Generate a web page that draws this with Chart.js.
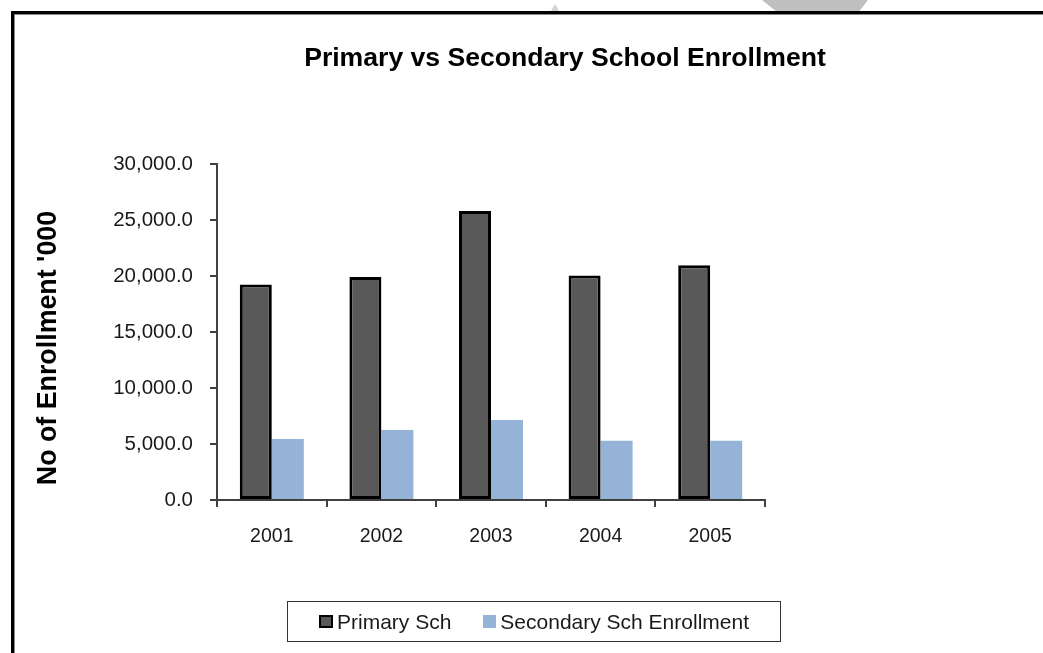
<!DOCTYPE html>
<html>
<head>
<meta charset="utf-8">
<title>Primary vs Secondary School Enrollment</title>
<script src="https://cdn.jsdelivr.net/npm/chart.js@4.4.1/dist/chart.umd.min.js"></script>
<style>
  html, body { margin: 0; padding: 0; background: #fff; overflow: hidden; }
  body { width: 1043px; height: 653px; position: relative; font-family: "Liberation Sans", Arial, sans-serif; }
  #frame {
    position: absolute; left: 11px; top: 11px; width: 1100px; height: 700px;
    border-left: 3px solid #000; border-top: 3px solid #000;
    box-shadow: inset 1px 1px 0 #8a8a8a;
  }
  #shape {
    position: absolute; left: 762px; top: 0; width: 106px; height: 11px; background: #c0c0c0;
    clip-path: polygon(0 0, 100% 0, 92% 100%, 13% 100%);
  }
  #shape2 {
    position: absolute; left: 551px; top: 4px; width: 8px; height: 7px; background: #d4d4d4;
    clip-path: polygon(50% 0, 100% 100%, 0 100%);
  }
  #wrap { position: absolute; left: 0; top: 0; width: 1043px; height: 653px; }
  #title {
    position: absolute; left: 265px; top: 44px; width: 600px; text-align: center;
    font-weight: bold; font-size: 26.6px; line-height: 26px; color: #000; white-space: nowrap;
  }
  #ytitle {
    position: absolute; left: -103px; top: 333px; width: 300px; height: 30px; line-height: 30px;
    text-align: center; font-weight: bold; font-size: 26.8px; color: #000; white-space: nowrap;
    transform: rotate(-90deg);
  }
  #legend {
    position: absolute; left: 287px; top: 601px; width: 492px; height: 39px;
    border: 1px solid #333; display: flex; align-items: center; justify-content: center;
    font-size: 21px; color: #1a1a1a; white-space: nowrap;
  }
  #legend .item { display: flex; align-items: center; }
  #legend .item + .item { margin-left: 32px; }
  #legend .box { box-sizing: border-box; width: 13px; height: 13px; margin-right: 4px; }
</style>
</head>
<body>
<div id="frame"></div>
<div id="shape"></div>
<div id="shape2"></div>
<div id="wrap"><canvas id="chart"></canvas></div>
<div id="title">Primary vs Secondary School Enrollment</div>
<div id="ytitle">No of Enrollment '000</div>
<div id="legend"></div>

<script>
// enrollment ('000) by year
const years = ['2001', '2002', '2003', '2004', '2005'];
const primarySch = [19250, 19900, 25800, 20050, 20950];
const secondarySch = [5450, 6250, 7150, 5300, 5300];
const seriesNames = ['Primary Sch', 'Secondary Sch Enrollment'];

// value axis
const yMin = 0;
const yMax = 30000;
const yStep = 5000;

Chart.defaults.font.family = '"Liberation Sans", Arial, sans-serif';

const axisColor = '#404040';

const chart = new Chart(document.getElementById('chart'), {
  type: 'bar',
  data: {
    labels: years,
    datasets: [{
      label: seriesNames[0],
      data: primarySch,
      backgroundColor: '#595959',
      borderColor: '#000',
      borderWidth: 3,
      borderSkipped: false
    }, {
      label: seriesNames[1],
      data: secondarySch,
      backgroundColor: '#95b3d7',
      borderWidth: 0
    }]
  },
  options: {
    responsive: true,
    maintainAspectRatio: false,
    animation: false,
    events: [],
    layout: {
      padding: { left: 0, top: 164, right: 278, bottom: 93 }
    },
    datasets: {
      bar: { categoryPercentage: 0.584, barPercentage: 1.0 }
    },
    plugins: {
      legend: { display: false },
      title: { display: false },
      tooltip: { enabled: false }
    },
    scales: {
      x: {
        grid: {
          offset: true,
          drawOnChartArea: false,
          drawTicks: true,
          tickLength: 7,
          color: axisColor,
          lineWidth: 2
        },
        border: { display: true, color: axisColor, width: 2 },
        ticks: { color: '#1a1a1a', font: { size: 19.5 }, padding: 18 },
        afterFit: (scale) => { scale.height = 60; }
      },
      y: {
        min: yMin,
        max: yMax,
        grid: {
          drawOnChartArea: false,
          drawTicks: true,
          tickLength: 7,
          color: axisColor,
          lineWidth: 2
        },
        border: { display: true, color: axisColor, width: 2 },
        ticks: {
          stepSize: yStep,
          color: '#1a1a1a',
          font: { size: 20.5 },
          padding: 17,
          callback: (v) => Number(v).toLocaleString('en-US', { minimumFractionDigits: 1, maximumFractionDigits: 1 })
        },
        afterFit: (scale) => { scale.width = 217; }
      }
    }
  }
});

// legend built from the datasets
const legendEl = document.getElementById('legend');
chart.data.datasets.forEach((ds) => {
  const item = document.createElement('div');
  item.className = 'item';
  const box = document.createElement('span');
  box.className = 'box';
  box.style.background = ds.backgroundColor;
  if (ds.borderWidth) {
    box.style.border = '2px solid ' + ds.borderColor;
    box.style.width = '14px';
  }
  const txt = document.createElement('span');
  txt.textContent = ds.label;
  item.appendChild(box);
  item.appendChild(txt);
  legendEl.appendChild(item);
});
</script>
</body>
</html>
